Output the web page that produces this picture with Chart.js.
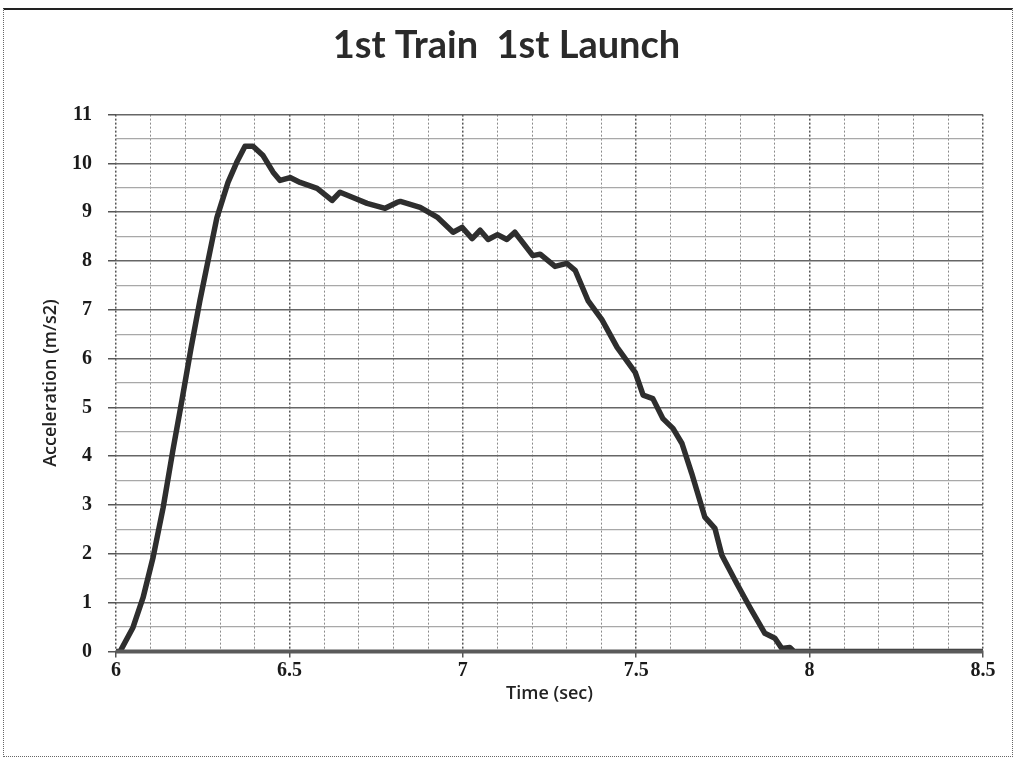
<!DOCTYPE html>
<html>
<head>
<meta charset="utf-8">
<script src="https://cdn.jsdelivr.net/npm/chart.js@4"></script>
<style>
  html, body { margin: 0; padding: 0; background: #fff; }
  #wrap { position: relative; width: 1016px; height: 757px; overflow: hidden; }
  #frame { position: absolute; left: 3px; top: 8px; width: 1008px; height: 746px;
           border: 1px dotted #666; border-top: 2px solid #222; }
  canvas { position: absolute; left: 0; top: 0; }
</style>
</head>
<body>
<div id="wrap">
  <div id="frame"></div>
  <canvas id="accChart" width="1016" height="757"></canvas>
</div>
<script>
// Time (sec)
const timeSec = [
  6.00, 6.012, 6.049, 6.078, 6.107, 6.136, 6.164, 6.19, 6.216, 6.242, 6.271, 6.291,
  6.323, 6.35, 6.372, 6.395, 6.424, 6.453, 6.473, 6.502, 6.531, 6.58, 6.623, 6.646,
  6.683, 6.724, 6.776, 6.81, 6.82, 6.877, 6.926, 6.972, 6.998, 7.027, 7.05, 7.073,
  7.10, 7.127, 7.15, 7.202, 7.223, 7.266, 7.30, 7.324, 7.361, 7.401, 7.445, 7.497,
  7.52, 7.548, 7.577, 7.606, 7.632, 7.66, 7.698, 7.727, 7.747, 7.79, 7.828, 7.871,
  7.90, 7.92, 7.943, 7.955, 8.5
];
// Acceleration (m/s2)
const accel = [
  0, 0, 0.49, 1.1, 1.93, 2.95, 4.12, 5.14, 6.2, 7.19, 8.2, 8.89,
  9.61, 10.05, 10.35, 10.35, 10.16, 9.82, 9.65, 9.71, 9.61, 9.49, 9.24, 9.41,
  9.3, 9.18, 9.08, 9.2, 9.22, 9.1, 8.9, 8.59, 8.69, 8.46, 8.63, 8.44,
  8.54, 8.44, 8.59, 8.11, 8.14, 7.89, 7.95, 7.81, 7.19, 6.8, 6.23, 5.72,
  5.25, 5.18, 4.77, 4.57, 4.26, 3.65, 2.75, 2.52, 1.97, 1.39, 0.9, 0.37,
  0.27, 0.06, 0.08, 0, 0
];
const xMin = 6, xMax = 8.5, xStep = 0.1;
const yMin = 0, yMax = 11, yStep = 0.5;

const points = timeSec.map((t, i) => ({ x: t, y: accel[i] }));

function isMultiple(v, m) {
  const r = v / m;
  return Math.abs(r - Math.round(r)) < 1e-6;
}
// grid helpers: context may come without a tick
function major(c, m) {
  return c.tick ? isMultiple(c.tick.value, m) : true;
}

const ctx = document.getElementById('accChart').getContext('2d');
new Chart(ctx, {
  type: 'scatter',
  data: {
    datasets: [{
      label: 'Acceleration',
      data: points,
      showLine: true,
      borderColor: '#2e2e2e',
      borderWidth: 5.5,
      pointRadius: 0,
      tension: 0,
      borderJoinStyle: 'round'
    }]
  },
  options: {
    responsive: false,
    animation: false,
    layout: { padding: { left: 30, right: 33, top: 0, bottom: 48 } },
    plugins: {
      legend: { display: false },
      tooltip: { enabled: false },
      title: {
        display: true,
        text: '1st Train  1st Launch',
        color: '#2a2a2a',
        font: { family: 'Lato', size: 38, weight: 'bold' },
        padding: { top: 23, bottom: 46 }
      }
    },
    scales: {
      x: {
        type: 'linear',
        min: xMin,
        max: xMax,
        ticks: {
          stepSize: xStep,
          autoSkip: false,
          maxRotation: 0,
          color: '#1a1a1a',
          font: { family: 'Liberation Serif', size: 20, weight: 'bold' },
          padding: 1,
          callback: v => isMultiple(v, 0.5) ? String(Math.round(v * 10) / 10) : ''
        },
        grid: {
          color: c => major(c, 0.5) ? '#555' : '#8a8a8a',
          lineWidth: c => major(c, 0.5) ? 1.5 : 1,
          tickColor: c => major(c, 0.5) ? '#555' : 'rgba(0,0,0,0)',
          tickLength: 6
        },
        border: { display: false, dash: [2, 2] },
        title: {
          display: true,
          text: 'Time (sec)',
          color: '#222',
          font: { family: 'Open Sans', size: 18, weight: '600' },
          padding: { top: 0 }
        }
      },
      y: {
        min: yMin,
        max: yMax,
        afterFit: s => { s.width = 86; },
        ticks: {
          stepSize: yStep,
          autoSkip: false,
          color: '#1a1a1a',
          font: { family: 'Liberation Serif', size: 20, weight: 'bold' },
          padding: 16,
          callback: v => isMultiple(v, 1) ? String(v) : ''
        },
        grid: {
          color: c => major(c, 1) ? '#666' : '#a8a8a8',
          lineWidth: c => major(c, 1) ? 1.5 : 1.2,
          tickColor: c => major(c, 1) ? '#555' : 'rgba(0,0,0,0)',
          tickLength: 8
        },
        border: { display: false },
        title: {
          display: true,
          text: 'Acceleration (m/s2)',
          color: '#222',
          font: { family: 'Open Sans', size: 18, weight: '600' },
          padding: { top: 10, bottom: 0 }
        }
      }
    }
  },
  plugins: [{
    id: 'baseline',
    afterDatasetsDraw(chart) {
      // thick grey zero line along the bottom of the plot
      const { ctx, chartArea, scales } = chart;
      const y0 = scales.y.getPixelForValue(0);
      ctx.save();
      ctx.strokeStyle = '#5a5a5a';
      ctx.lineWidth = 4;
      ctx.beginPath();
      ctx.moveTo(chartArea.left, y0);
      ctx.lineTo(chartArea.right, y0);
      ctx.stroke();
      ctx.restore();
    }
  }]
});
</script>
</body>
</html>
